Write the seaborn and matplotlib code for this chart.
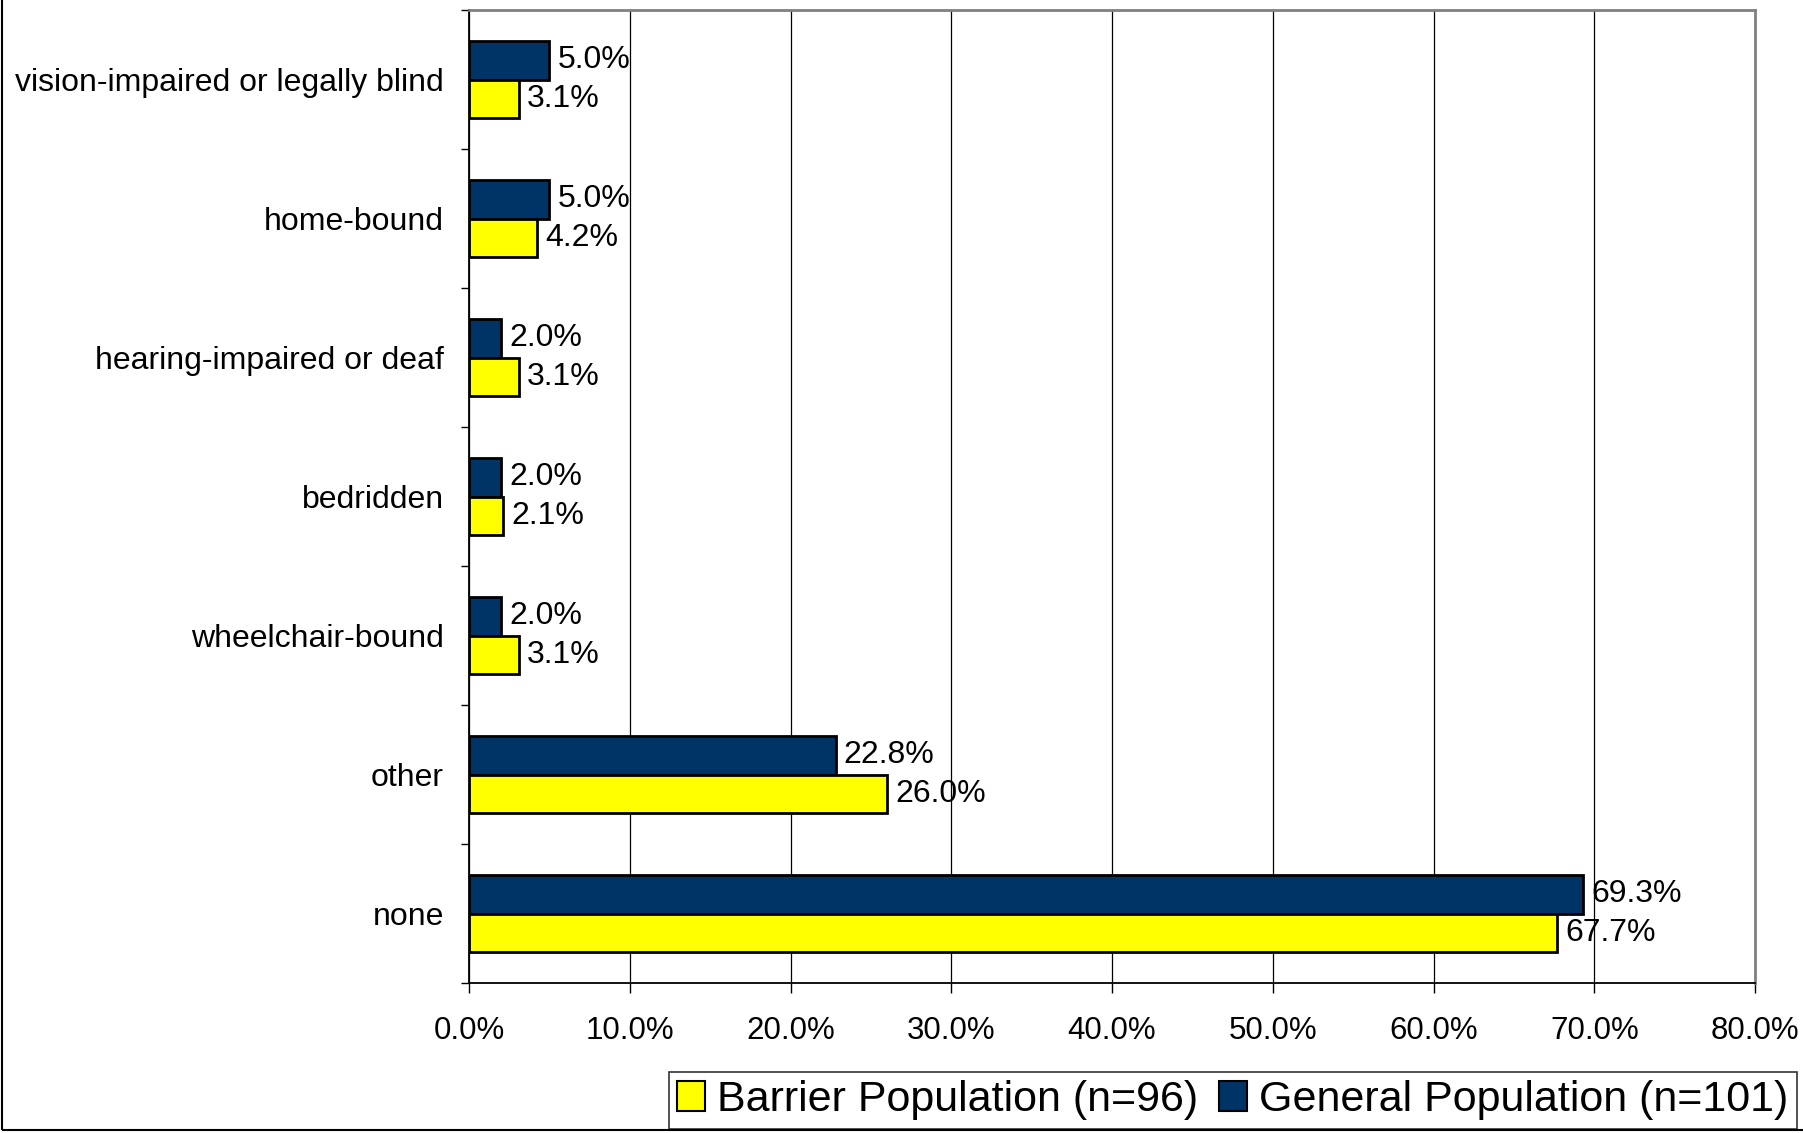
import matplotlib
matplotlib.use("Agg")
import matplotlib.pyplot as plt
import matplotlib.ticker as ticker
from matplotlib.patches import Patch, Rectangle
import pandas as pd
import seaborn as sns

categories = ["vision-impaired or legally blind", "home-bound", "hearing-impaired or deaf",
              "bedridden", "wheelchair-bound", "other", "none"]
general_pct = [5.0, 5.0, 2.0, 2.0, 2.0, 22.8, 69.3]
barrier_pct = [3.1, 4.2, 3.1, 2.1, 3.1, 26.0, 67.7]
series = ["General Population (n=101)", "Barrier Population (n=96)"]
x_ticks = [0, 10, 20, 30, 40, 50, 60, 70, 80]

NAVY = "#003366"
YELLOW = "#FFFF00"

df = pd.DataFrame({
    "category": categories * 2,
    "population": [series[0]] * len(categories) + [series[1]] * len(categories),
    "pct": general_pct + barrier_pct,
})

sns.set_style("white")
plt.rcParams["font.family"] = ["Liberation Sans", "DejaVu Sans"]

fig = plt.figure(figsize=(18.03, 11.33), dpi=100)
ax = fig.add_axes([469 / 1803, 1 - 983 / 1133, (1755 - 469) / 1803, (983 - 10) / 1133])

sns.barplot(data=df, y="category", x="pct", hue="population", order=categories,
            hue_order=series, palette=[NAVY, YELLOW], orient="h", width=0.56,
            edgecolor="black", linewidth=2, saturation=1, legend=False, ax=ax)

for cont in ax.containers:
    ax.bar_label(cont, labels=["%.1f%%" % b.get_width() for b in cont],
                 padding=6, fontsize=23, color="black")

ax.set_xlim(0, 80)
ax.set_ylim(len(categories) - 0.5, -0.5)
ax.set_xticks(x_ticks)
ax.xaxis.set_major_formatter(ticker.FuncFormatter(lambda v, p: "%.1f%%" % v))
ax.set_yticks(range(len(categories)))
ax.set_yticklabels(categories)
ax.yaxis.set_minor_locator(ticker.FixedLocator([i - 0.5 for i in range(len(categories) + 1)]))
ax.tick_params(axis="y", which="major", length=0, pad=18, labelsize=23.0, labelcolor="black")
ax.tick_params(axis="y", which="minor", left=True, length=6, width=1, color="black")
ax.tick_params(axis="x", which="major", bottom=True, length=7, width=1, color="black",
               pad=17, labelsize=22.5, labelcolor="black")
ax.set_xlabel("")
ax.set_ylabel("")
ax.grid(axis="x", color="black", linewidth=0.9)
ax.set_axisbelow(True)

for side in ["left", "bottom"]:
    ax.spines[side].set_color("black")
    ax.spines[side].set_linewidth(1.3)
for side in ["top", "right"]:
    ax.spines[side].set_visible(True)
    ax.spines[side].set_color("#808080")
    ax.spines[side].set_linewidth(2)

handles = [Patch(facecolor=YELLOW, edgecolor="black", linewidth=1.5),
           Patch(facecolor=NAVY, edgecolor="black", linewidth=1.5)]
leg = fig.legend(handles, [series[1], series[0]], loc="lower right",
                 bbox_to_anchor=(1797 / 1803, 4 / 1133), ncol=2, fontsize=31,
                 labelcolor="black", frameon=True, fancybox=False,
                 handlelength=0.65, handleheight=0.7, handletextpad=0.28,
                 columnspacing=0.48, borderpad=0.2, borderaxespad=0)
leg.get_frame().set_edgecolor("black")
leg.get_frame().set_linewidth(1.2)

fig.add_artist(Rectangle((2 / 1803, 3 / 1133), 1.2, 1.2, transform=fig.transFigure,
                         fill=False, edgecolor="black", linewidth=1.5))

fig.savefig("out.png", dpi=100, facecolor="white")
